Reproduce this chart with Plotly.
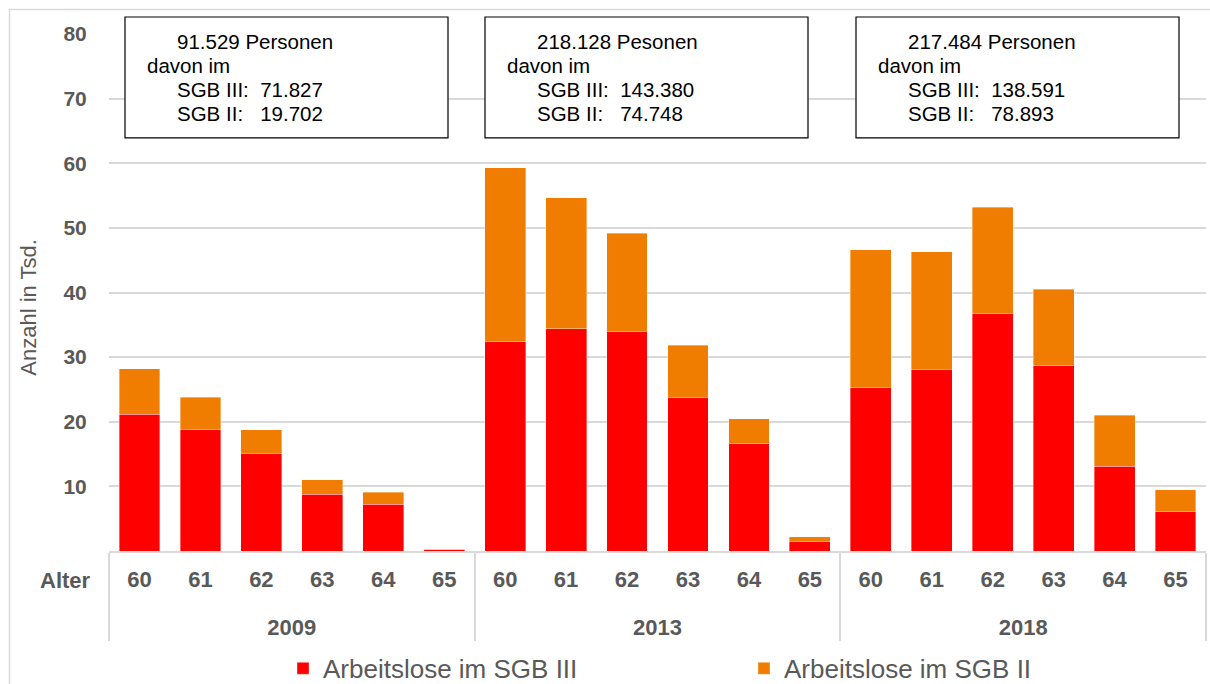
import plotly.graph_objects as go

years = ["2009", "2013", "2018"]
ages = ["60", "61", "62", "63", "64", "65"]

sgb3 = {
    "2009": [21.2, 18.8, 15.1, 8.8, 7.2, 0.2],
    "2013": [32.4, 34.4, 34.0, 23.8, 16.6, 1.5],
    "2018": [25.3, 28.1, 36.8, 28.7, 13.1, 6.1],
}
sgb2 = {
    "2009": [7.0, 5.0, 3.7, 2.2, 1.9, 0.05],
    "2013": [26.9, 20.3, 15.2, 8.0, 3.9, 0.7],
    "2018": [21.3, 18.2, 16.4, 11.8, 7.9, 3.4],
}
box_texts = [
    ["91.529 Personen", "davon im", "SGB III:  71.827", "SGB II:   19.702"],
    ["218.128 Pesonen", "davon im", "SGB III:  143.380", "SGB II:   74.748"],
    ["217.484 Personen", "davon im", "SGB III:  138.591", "SGB II:   78.893"],
]
series_names = ["Arbeitslose im SGB III", "Arbeitslose im SGB II"]
y_ticks = [10, 20, 30, 40, 50, 60, 70, 80]

RED = "#FF0000"
ORANGE = "#F07D00"
GREY = "#595959"
GRID = "#D9D9D9"
FONT = "Liberation Sans"

W, H = 1210, 684
L, R, T, B = 109, 4, 34, 132.5
PW = W - L - R
PH = H - T - B


def px_x(x):
    return (x - L) / PW


def px_y(y):
    return (H - B - y) / PH


# year labels get a leading empty line to sit lower like the original
year_labels = ["<br>" + y for y in years]
xcat = [[yl for yl in year_labels for _ in ages], [a for _ in years for a in ages]]
v3 = [v for y in years for v in sgb3[y]]
v2 = [v for y in years for v in sgb2[y]]

fig = go.Figure()
fig.add_trace(go.Bar(x=xcat, y=v3, name=series_names[0],
                     marker=dict(color=RED, line=dict(width=0.6, color="rgba(255,255,255,0.6)"))))
fig.add_trace(go.Bar(x=xcat, y=v2, name=series_names[1],
                     marker=dict(color=ORANGE, line=dict(width=0.6, color="rgba(255,255,255,0.6)"))))

fig.update_layout(
    width=W, height=H,
    margin=dict(l=L, r=R, t=T, b=B, pad=0, autoexpand=False),
    barmode="stack",
    bargap=0.33,
    plot_bgcolor="white",
    paper_bgcolor="white",
    font=dict(family=FONT, color=GREY),
    showlegend=True,
    legend=dict(
        orientation="h", x=px_x(283), xanchor="left", y=px_y(669), yanchor="middle",
        font=dict(family=FONT, size=26, color=GREY),
        entrywidth=416, entrywidthmode="pixels", traceorder="normal",
        bgcolor="rgba(0,0,0,0)",
    ),
)
fig.update_yaxes(
    range=[0, 80], tickvals=y_ticks, showgrid=True, gridcolor=GRID, gridwidth=1.5,
    zeroline=False, showline=False,
    tickfont=dict(family=FONT, size=21, color=GREY, weight="bold"),
    ticks="outside", ticklen=17, tickcolor="rgba(0,0,0,0)",
)
fig.update_xaxes(
    type="multicategory", showline=True, linecolor=GRID, linewidth=1.5,
    showdividers=True, dividercolor=GRID, dividerwidth=1.5,
    tickfont=dict(family=FONT, size=22, color=GREY, weight="bold"),
    ticks="outside", ticklen=27, tickcolor="rgba(0,0,0,0)",
    ticklabelstandoff=8,
)

# outer frame
fig.add_shape(type="rect", xref="paper", yref="paper",
              x0=px_x(9.5), x1=px_x(1230), y0=px_y(9.5), y1=px_y(720),
              line=dict(color=GRID, width=1.5), fillcolor="rgba(0,0,0,0)", layer="below")

# info boxes
boxes = [(125, 448), (485, 808), (856, 1179)]
line_y = [42, 66, 90, 114]
line_dx = [50, 20, 50, 50]
for (x0, x1), lines in zip(boxes, box_texts):
    fig.add_shape(type="rect", xref="paper", yref="paper",
                  x0=px_x(x0), x1=px_x(x1), y0=px_y(17), y1=px_y(138),
                  line=dict(color="#000000", width=1.2), fillcolor="white", layer="above")
    for txt, ly, dx in zip(lines, line_y, line_dx):
        fig.add_annotation(
            xref="paper", yref="paper", x=px_x(x0 + dx), y=px_y(ly),
            xanchor="left", yanchor="middle", text=txt.replace(" ", "\u00a0"),
            showarrow=False, align="left",
            font=dict(family=FONT, size=20.5, color="#000000"),
        )

# 'Alter' label
fig.add_annotation(xref="paper", yref="paper", x=px_x(65), y=px_y(581), text="Alter",
                   showarrow=False, xanchor="center", yanchor="middle",
                   font=dict(family=FONT, size=22, color=GREY, weight="bold"))
# y title
fig.add_annotation(xref="paper", yref="paper", x=px_x(29), y=px_y(308), text="Anzahl in Tsd.",
                   showarrow=False, xanchor="center", yanchor="middle", textangle=-90,
                   font=dict(family=FONT, size=22, color=GREY))

fig.write_html("out.html", config={"displayModeBar": False},
               post_script="document.body.style.margin='0';")
